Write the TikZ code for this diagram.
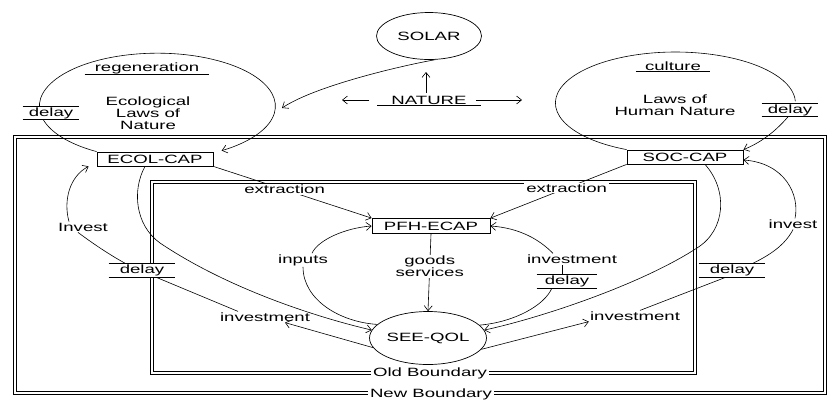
\documentclass[tikz,border=0pt]{standalone}
\usepackage{fontspec}
\setmainfont{Liberation Sans}[FakeStretch=1.55]
\usetikzlibrary{arrows.meta,shapes.geometric,backgrounds}

\begin{document}
\begin{tikzpicture}[x=1pt,y=-1pt,
  every node/.style={font=\fontsize{12}{12}\selectfont, inner sep=1pt},
  ln/.style={line width=0.6pt},
  arr/.style={ln,-{Straight Barb[length=5pt,width=8pt]}},
  box/.style={draw, line width=0.8pt, minimum width=116pt, minimum height=14pt, inner sep=0pt, fill=white},
  oval/.style={draw, ellipse, line width=0.7pt, inner sep=0pt},
  lbl/.style={fill=white, inner xsep=2pt, inner ysep=1pt},
  uline/.style={append after command={([xshift=-#1]\tikzlastnode.south west) edge[ln] ([xshift=#1]\tikzlastnode.south east)}},
  delaybox/.style={fill=white, inner xsep=2pt, inner ysep=1pt,
    append after command={([xshift=-#1]\tikzlastnode.north west) edge[ln] ([xshift=#1]\tikzlastnode.north east)
                          ([xshift=-#1]\tikzlastnode.south west) edge[ln] ([xshift=#1]\tikzlastnode.south east)}},
  delaybox/.default=5pt,
  bound/.style={draw, double, double distance=1.6pt, line width=0.8pt},
]
\useasboundingbox (0,0) rectangle (827,400);

% --- top: solar input and nature ---
\node[oval, minimum width=105pt, minimum height=47pt] (solar) at (429,36) {SOLAR};
\node[uline=13pt] (nature) at (429,100) {NATURE};
\coordinate (natL) at (342,100);
\coordinate (natR) at (522,100);
\coordinate (natU) at (426,72);
\coordinate (ecolR) at (282,108);

% --- ecological loop ---
\node[uline=9pt] (regen) at (147,68) {regeneration};
\node[align=center] (ecollaws) at (148,113) {Ecological\\Laws of\\Nature};
\node[delaybox=4pt] (dlyA) at (51,113) {delay};
\node[box] (ecol) at (155,159) {ECOL-CAP};

% --- social loop ---
\node[uline=8pt] (culture) at (673,66) {culture};
\node[align=center] (humlaws) at (675,105) {Laws of\\Human Nature};
\node[delaybox=4pt] (dlyB) at (790,110) {delay};
\node[box] (soc) at (685,157) {SOC-CAP};

% --- economic core ---
\node[box, minimum width=118pt, minimum height=15pt] (pfh) at (431,226) {PFH-ECAP};
\node[oval, minimum width=107pt, minimum height=53pt] (see) at (428,338) {SEE-QOL};

\node (inputs) at (303,260) {inputs};
\node (invC) at (572,259) {investment};
\node[delaybox=6pt] (dlyC) at (567,281) {delay};

\node (invL) at (265,317) {investment};
\node[delaybox=9pt] (dlyL) at (142,270) {delay};
\node (investL) at (83,227) {Invest};

\node (invR) at (635,316) {investment};
\node[delaybox=9pt] (dlyR) at (732,270) {delay};
\node (investR) at (793,224) {invest};

\node[lbl] (oldb) at (430,373) {Old Boundary};
\node[lbl] (newb) at (431,394) {New Boundary};

\begin{scope}[on background layer]
  % boundaries
  \draw[bound] (15,137) rectangle (825,393);
  \draw[bound] (152,182) rectangle (695,373);

  % nature arrows
  \draw[arr] ([xshift=-21pt]nature.west) -- (natL);
  \draw[arr] ([xshift=8pt]nature.east) -- (natR);
  \draw[arr] ([xshift=-3pt,yshift=2pt]nature.north) -- (natU);

  % solar into ecological loop
  \draw[arr] (solar.-75) .. controls (400,66) and (315,86) .. (ecolR);

  % feedback loops of the two capitals
  \draw[arr] (ecol.north west) arc[start angle=121, end angle=417, x radius=118, y radius=53];
  \draw[ln] (soc.north west) arc[start angle=114, end angle=358, x radius=120, y radius=51];
  \draw[arr] ([xshift=-2pt]dlyB.south) .. controls (775,132) and (760,143) .. (soc.north east);

  % extraction
  \draw[arr] (ecol.south east) -- node[lbl, pos=0.45] (extA) {extraction} (pfh.north west);
  \draw[arr] (soc.south west) -- node[lbl, pos=0.44] (extB) {extraction} (pfh.north east);

  % goods and services
  \draw[arr] (pfh.south) -- node[lbl, pos=0.42, align=center] (goods) {goods\\services} (see.north);

  % inputs
  \draw[ln] (see.165) .. controls (340,322) and (303,300) .. (inputs.south);
  \draw[arr] ([xshift=9pt]inputs.north) .. controls (318,240) and (345,228) .. (pfh.west);

  % investment back into production
  \draw[ln] (see.14) .. controls (515,322) and (545,305) .. ([xshift=-15pt]dlyC.south);
  \draw[ln] ([xshift=-5pt]dlyC.north) -- ([xshift=-10pt]invC.south);
  \draw[arr] ([xshift=-19pt]invC.north) .. controls (540,240) and (520,228) .. (pfh.east);

  % services of the capitals to SEE-QOL
  \draw[arr] ([xshift=20pt]soc.south) .. controls (728,190) and (726,230) .. (697,248)
             .. controls (640,285) and (540,318) .. (see.8);
  \draw[arr] ([xshift=-10pt]ecol.south) .. controls (132,190) and (135,225) .. (160,243)
             .. controls (230,290) and (320,318) .. (see.172);

  % investment into ecological capital
  \draw[arr] (see.190) -- ([xshift=20pt]invL.south);
  \draw[ln] ([xshift=-27pt]invL.north) -- ([xshift=13pt]dlyL.south);
  \draw[ln] ([xshift=-17pt]dlyL.north) .. controls (110,255) and (92,243) .. ([xshift=-5pt]investL.south);
  \draw[arr] ([xshift=-14pt]investL.north) .. controls (63,200) and (70,176) .. ([xshift=-8pt]ecol.south west);

  % investment into social capital
  \draw[arr] (see.-12) -- (invR.south west);
  \draw[ln] ([xshift=5pt]invR.north) -- ([xshift=-5pt]dlyR.south);
  \draw[ln] ([xshift=21pt]dlyR.north) .. controls (770,255) and (785,245) .. (investR.south);
  \draw[arr] ([xshift=2pt]investR.north) .. controls (800,195) and (785,163) .. ([yshift=-3pt]soc.east);
\end{scope}
\end{tikzpicture}
\end{document}
